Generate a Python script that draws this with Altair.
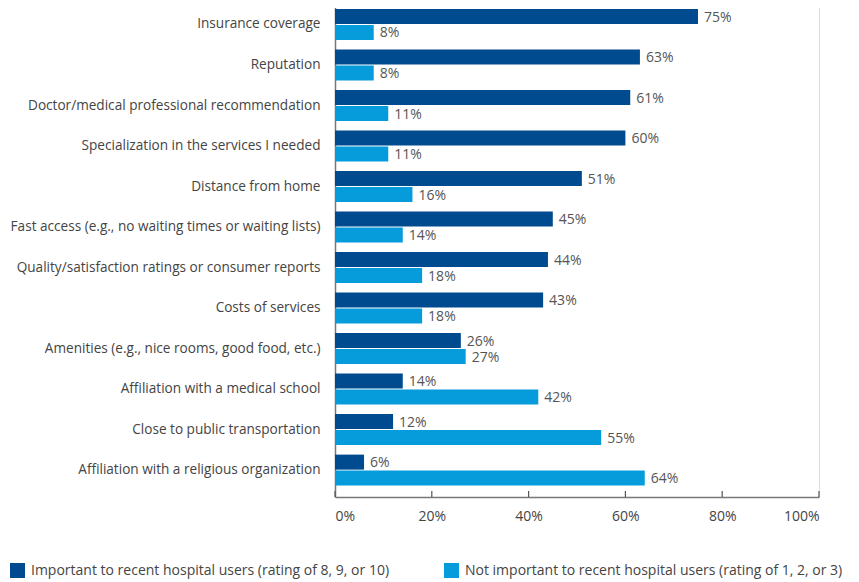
import altair as alt
import pandas as pd

categories = [
    "Insurance coverage",
    "Reputation",
    "Doctor/medical professional recommendation",
    "Specialization in the services I needed",
    "Distance from home",
    "Fast access (e.g., no waiting times or waiting lists)",
    "Quality/satisfaction ratings or consumer reports",
    "Costs of services",
    "Amenities (e.g., nice rooms, good food, etc.)",
    "Affiliation with a medical school",
    "Close to public transportation",
    "Affiliation with a religious organization",
]
important = [75, 63, 61, 60, 51, 45, 44, 43, 26, 14, 12, 6]
not_important = [8, 8, 11, 11, 16, 14, 18, 18, 27, 42, 55, 64]
series = [
    "Important to recent hospital users (rating of 8, 9, or 10)",
    "Not important to recent hospital users (rating of 1, 2, or 3)",
]
colors = ["#004A8F", "#069CDB"]
tick_values = [0, 20, 40, 60, 80, 100]

rows = []
for c, a, b in zip(categories, important, not_important):
    rows.append({"cat": c, "series": series[0], "value": a})
    rows.append({"cat": c, "series": series[1], "value": b})
df = pd.DataFrame(rows)
ticks_df = pd.DataFrame({"t": tick_values})

W, H = 484, 492
FONT = "Open Sans"
TXT = "#444444"

y_enc = alt.Y(
    "cat:N", sort=categories, title=None,
    scale=alt.Scale(paddingInner=0.235, paddingOuter=0.19, align=0.26),
    axis=alt.Axis(ticks=False, labelPadding=15, labelFontSize=13.6, labelColor=TXT,
                  labelFont=FONT, domainColor="#777777", domainWidth=1.5,
                  labelLimit=400, minExtent=325, maxExtent=325),
)
x_scale = alt.Scale(domain=[0, 100], nice=False)
yoff = alt.YOffset("series:N", sort=series, scale=alt.Scale(paddingInner=0.06))

bars = alt.Chart(df).mark_bar().encode(
    y=y_enc,
    yOffset=yoff,
    x=alt.X("value:Q", scale=x_scale, title=None,
            axis=alt.Axis(values=tick_values, labelExpr="datum.value + '%'", ticks=False,
                          labelPadding=12, labelFontSize=14, labelColor=TXT, labelFont=FONT,
                          domainColor="#777777", domainWidth=1.5, grid=False)),
    color=alt.Color("series:N", sort=series, scale=alt.Scale(domain=series, range=colors),
                    legend=alt.Legend(title=None, orient="none", legendX=-325, legendY=558,
                                      direction="horizontal", columns=2, columnPadding=54,
                                      symbolType="square", symbolSize=225, symbolStrokeWidth=0,
                                      labelFontSize=14, labelColor=TXT, labelFont=FONT,
                                      labelOffset=6, padding=0, labelLimit=0)),
)

labels = alt.Chart(df).transform_calculate(lab="datum.value + '%'").mark_text(
    align="left", baseline="middle", dx=6, dy=1, fontSize=14, color="#555555", font=FONT
).encode(
    y=alt.Y("cat:N", sort=categories),
    yOffset=yoff,
    x=alt.X("value:Q", scale=x_scale),
    text="lab:N",
)

tick_marks = alt.Chart(ticks_df).mark_rule(color="#555555", strokeWidth=1.2).encode(
    x=alt.X("t:Q", scale=x_scale),
    y=alt.value(H - 6),
    y2=alt.value(H),
)

chart = alt.layer(bars, labels, tick_marks).properties(
    width=W, height=H,
    padding={"left": 2, "top": -3, "right": 5, "bottom": 5},
).configure_view(stroke=None).configure(font=FONT)

chart.save("out.html", embed_options={"renderer": "svg", "actions": False})
